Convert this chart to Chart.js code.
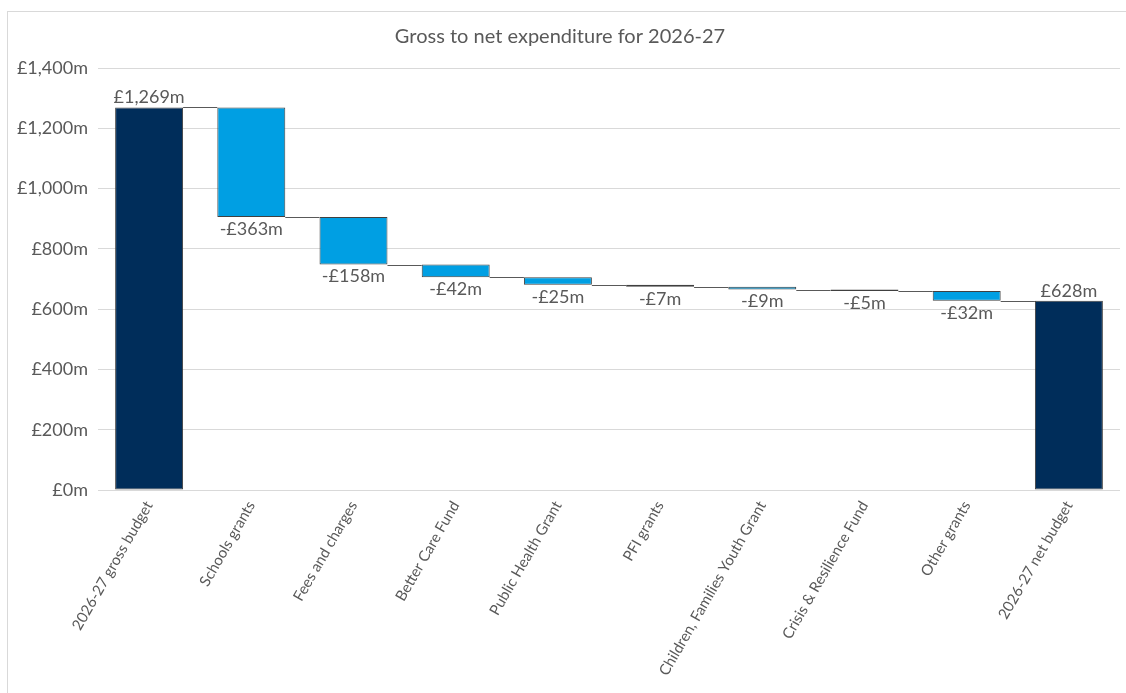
<!DOCTYPE html>
<html>
<head>
<meta charset="utf-8">
<script src="https://cdn.jsdelivr.net/npm/chart.js@4"></script>
<style>
  html, body { margin: 0; padding: 0; background: #fff; overflow: hidden; }
  #frame { position: absolute; left: 7px; top: 11px; width: 1200px; height: 800px; border: 1px solid #d9d9d9; box-sizing: border-box; }
  #wrap { position: absolute; left: 0; top: 0; width: 1126px; height: 693px; }
</style>
</head>
<body>
<div id="frame"></div>
<div id="wrap"><canvas id="c" width="1126" height="693"></canvas></div>
<script>
const categories = ["2026-27 gross budget", "Schools grants", "Fees and charges", "Better Care Fund", "Public Health Grant", "PFI grants", "Children, Families Youth Grant", "Crisis & Resilience Fund", "Other grants", "2026-27 net budget"];
const grossBudget = 1269;
const reductions = [363, 158, 42, 25, 7, 9, 5, 32];
const netBudget = 628;
const yTicks = [0, 200, 400, 600, 800, 1000, 1200, 1400];

const fmt = v => '£' + Math.abs(v).toLocaleString('en-GB') + 'm';

// floating ranges
const ranges = [];
const labels = [];
const isTotal = [];
ranges.push([0, grossBudget]); labels.push(fmt(grossBudget)); isTotal.push(true);
let running = grossBudget;
reductions.forEach(r => {
  ranges.push([running - r, running]);
  labels.push('-' + fmt(r));
  isTotal.push(false);
  running -= r;
});
ranges.push([0, netBudget]); labels.push(fmt(netBudget)); isTotal.push(true);

const dark = '#002D5A', light = '#009FE3';
const FONT = 'Lato, "Open Sans", sans-serif';

const waterfallPlugin = {
  id: 'waterfall',
  afterDatasetsDraw(chart) {
    const ctx = chart.ctx;
    const meta = chart.getDatasetMeta(0);
    const y = chart.scales.y;
    ctx.save();
    // connectors
    ctx.strokeStyle = '#595959';
    ctx.lineWidth = 1;
    for (let i = 0; i < meta.data.length - 1; i++) {
      const b = meta.data[i], n = meta.data[i + 1];
      const level = isTotal[i] ? ranges[i][1] : ranges[i][0];
      const py = Math.round(y.getPixelForValue(level)) + 0.5;
      ctx.beginPath();
      ctx.moveTo(b.x + b.width / 2, py);
      ctx.lineTo(n.x - n.width / 2, py);
      ctx.stroke();
    }
    // labels
    ctx.fillStyle = '#595959';
    ctx.font = '18px ' + FONT;
    ctx.textAlign = 'center';
    meta.data.forEach((b, i) => {
      if (isTotal[i]) {
        ctx.textBaseline = 'bottom';
        ctx.fillText(labels[i], b.x, y.getPixelForValue(ranges[i][1]) - 1);
      } else {
        ctx.textBaseline = 'top';
        ctx.fillText(labels[i], b.x, y.getPixelForValue(ranges[i][0]) + 3);
      }
    });
    ctx.restore();
  }
};

new Chart(document.getElementById('c'), {
  type: 'bar',
  data: {
    labels: categories,
    datasets: [{
      data: ranges,
      backgroundColor: isTotal.map(t => t ? dark : light),
      borderColor: '#404040',
      borderWidth: 1,
      borderSkipped: false,
      barPercentage: 0.665,
      categoryPercentage: 1.0
    }]
  },
  options: {
    responsive: false,
    animation: false,
    devicePixelRatio: 1,
    layout: { padding: { left: 0, right: 6, top: 0, bottom: 0 } },
    plugins: {
      legend: { display: false },
      tooltip: { enabled: false },
      title: {
        display: true,
        text: 'Gross to net expenditure for 2026-27',
        color: '#595959',
        font: { family: FONT, size: 20, weight: 'normal' },
        padding: { top: 25, bottom: 19 }
      }
    },
    scales: {
      x: {
        grid: { display: false, drawTicks: false },
        border: { display: false },
        ticks: {
          color: '#595959',
          font: { family: FONT, size: 15 },
          minRotation: 60, maxRotation: 60,
          autoSkip: false,
          padding: 8
        },
        afterFit(scale) { scale.height = 203; }
      },
      y: {
        min: 0, max: 1400,
        afterBuildTicks(scale) { scale.ticks = yTicks.map(v => ({ value: v })); },
        grid: { color: '#d9d9d9', drawTicks: false },
        border: { display: false },
        ticks: {
          color: '#595959',
          font: { family: FONT, size: 18 },
          padding: 10,
          callback: v => fmt(v)
        },
        afterFit(scale) { scale.width = 98; }
      }
    }
  },
  plugins: [waterfallPlugin]
});
</script>
</body>
</html>
